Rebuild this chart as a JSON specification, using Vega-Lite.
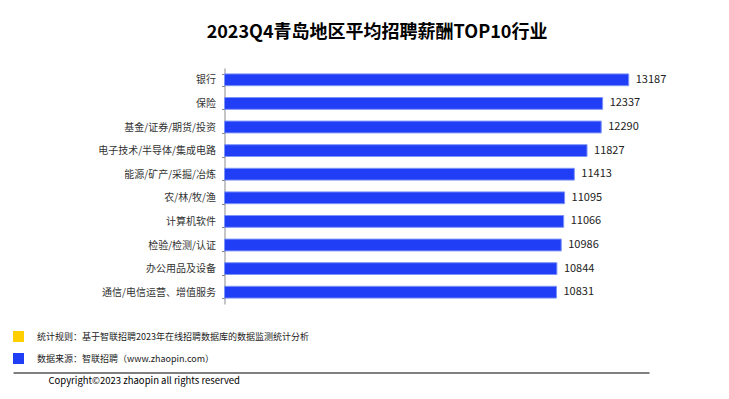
{
  "$schema": "https://vega.github.io/schema/vega-lite/v6.json",
  "width": 636,
  "height": 236,
  "autosize": {"type": "none"},
  "padding": {"left": 13, "top": 68, "right": 80, "bottom": 95},
  "background": "white",
  "title": {
    "text": "2023Q4青岛地区平均招聘薪酬TOP10行业",
    "anchor": "middle",
    "frame": "group",
    "dx": 46,
    "offset": 21,
    "fontSize": 18,
    "fontWeight": "bold",
    "font": "Noto Sans CJK SC",
    "color": "#000000"
  },
  "data": {
    "values": [
      {"行业": "银行", "平均薪酬": 13187},
      {"行业": "保险", "平均薪酬": 12337},
      {"行业": "基金/证券/期货/投资", "平均薪酬": 12290},
      {"行业": "电子技术/半导体/集成电路", "平均薪酬": 11827},
      {"行业": "能源/矿产/采掘/冶炼", "平均薪酬": 11413},
      {"行业": "农/林/牧/渔", "平均薪酬": 11095},
      {"行业": "计算机软件", "平均薪酬": 11066},
      {"行业": "检验/检测/认证", "平均薪酬": 10986},
      {"行业": "办公用品及设备", "平均薪酬": 10844},
      {"行业": "通信/电信运营、增值服务", "平均薪酬": 10831}
    ]
  },
  "encoding": {
    "y": {
      "field": "行业",
      "type": "nominal",
      "sort": null,
      "scale": {"paddingInner": 0.5, "paddingOuter": 0.25},
      "axis": {
        "title": null,
        "offset": -211.5,
        "tickBand": "extent",
        "domainColor": "#8c8c8c",
        "tickColor": "#8c8c8c",
        "tickSize": 3,
        "labelPadding": 6,
        "labelFontSize": 10,
        "labelColor": "#333333",
        "labelFont": "Noto Sans CJK SC",
        "labelLimit": 250,
        "grid": false
      }
    },
    "x": {
      "field": "平均薪酬",
      "type": "quantitative",
      "scale": {"domain": [-6900, 13849], "nice": false, "zero": false},
      "axis": {
        "orient": "bottom",
        "offset": 68.5,
        "domain": true,
        "domainColor": "#000000",
        "domainWidth": 1,
        "labels": false,
        "ticks": false,
        "grid": false,
        "title": "Copyright©2023 zhaopin all rights reserved",
        "titleX": 35,
        "titleY": 3,
        "titleAlign": "left",
        "titleBaseline": "top",
        "titleFontWeight": "normal",
        "titleFontSize": 9.5,
        "titleFont": "Noto Sans CJK SC",
        "titleColor": "#000000"
      }
    }
  },
  "layer": [
    {
      "mark": {"type": "bar", "stroke": "#7d93f8", "strokeWidth": 1},
      "encoding": {
        "x2": {"datum": 0},
        "color": {
          "datum": "数据来源：智联招聘（www.zhaopin.com）",
          "scale": {
            "domain": ["统计规则：基于智联招聘2023年在线招聘数据库的数据监测统计分析", "数据来源：智联招聘（www.zhaopin.com）"],
            "range": ["#ffcf00", "#1f3ef5"]
          },
          "legend": {
            "orient": "none",
            "legendX": 0,
            "legendY": 263,
            "title": null,
            "direction": "vertical",
            "symbolType": "square",
            "symbolSize": 121,
            "symbolStrokeWidth": 0,
            "labelFontSize": 9,
            "labelFont": "Noto Sans CJK SC",
            "labelColor": "#222222",
            "labelOffset": 13,
            "rowPadding": 11,
            "labelLimit": 400,
            "padding": 0
          }
        }
      }
    },
    {
      "mark": {"type": "text", "align": "left", "baseline": "middle", "dx": 7, "fontSize": 11, "color": "#222222", "font": "Noto Sans CJK SC"},
      "encoding": {
        "text": {"field": "平均薪酬", "type": "quantitative", "format": "d"}
      }
    }
  ],
  "config": {
    "view": {"stroke": null},
    "font": "Noto Sans CJK SC"
  }
}
